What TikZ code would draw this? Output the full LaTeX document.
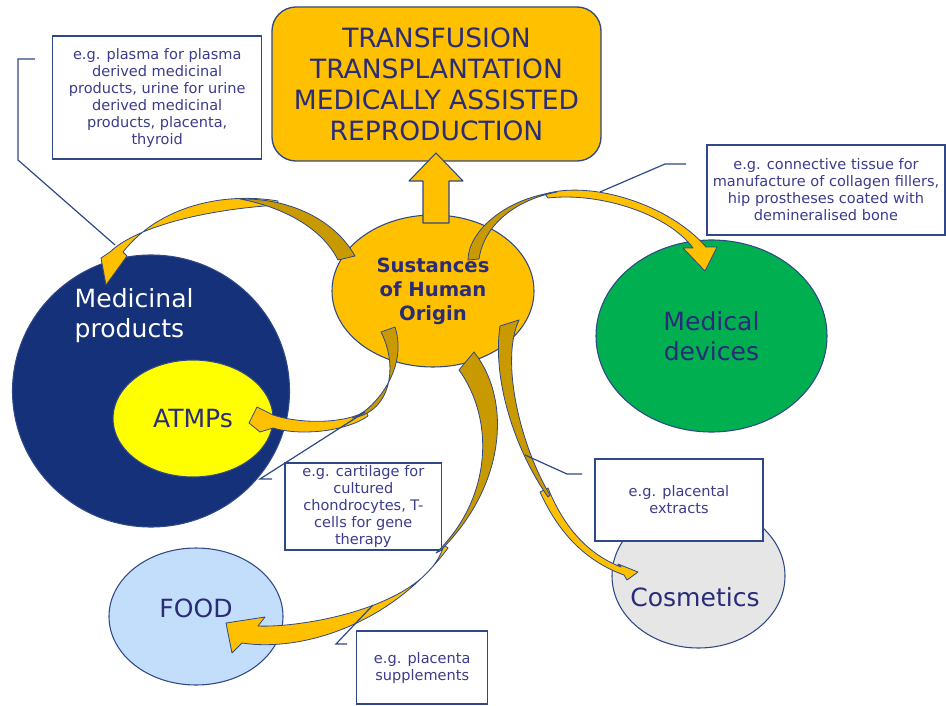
\documentclass[tikz,border=0pt]{standalone}
\usepackage{fontspec}
\setmainfont{DejaVu Sans}
\usetikzlibrary{shapes.geometric}
\definecolor{gold}{HTML}{FFC000}
\definecolor{darkgold}{HTML}{C99A00}
\definecolor{navyline}{HTML}{2F4888}
\definecolor{navyfill}{HTML}{14317A}
\definecolor{txt}{HTML}{2A2C78}
\definecolor{boxtxt}{HTML}{3C3C8C}
\definecolor{mygreen}{HTML}{00B050}
\definecolor{myyellow}{HTML}{FFFF00}
\definecolor{foodblue}{HTML}{C3DEFA}
\definecolor{cosgrey}{HTML}{E6E6E6}
\begin{document}
\begin{tikzpicture}[x=0.75pt,y=-0.75pt,
  blob/.style={ellipse, draw=navyline, line width=0.8pt, inner sep=0pt},
  note/.style={rectangle, draw=navyline, line width=1pt, fill=white, text=boxtxt,
    font=\fontsize{10.9}{12.75}\selectfont, align=center, inner sep=0pt},
  big/.style={font=\fontsize{18.8}{22.5}\selectfont},
  ribbonback/.style={fill=darkgold, draw=navyline, line width=0.6pt, line join=round},
  ribbonfront/.style={fill=gold, draw=navyline, line width=0.6pt, line join=round},
  callout/.style={draw=navyline, line width=0.9pt}]
\useasboundingbox (0,0) rectangle (946,706);

% main shapes
\node[blob, fill=navyfill, minimum width=207.75pt, minimum height=204pt] (med) at (151,391) {};
\node[blob, fill=myyellow, minimum width=120pt, minimum height=87.75pt, text=txt, big] (atmp) at (193,418.5) {ATMPs};
\node[blob, fill=mygreen, minimum width=173.25pt, minimum height=144pt, text=txt, big, align=center] (dev) at (711.5,336) {Medical\\devices};
\node[blob, fill=foodblue, minimum width=130.5pt, minimum height=102.75pt] (food) at (196,616.5) {};
\node[text=txt, big] (foodt) at (196,608) {FOOD};
\node[blob, fill=cosgrey, minimum width=129.75pt, minimum height=108pt] (cos) at (698.5,576) {};
\node[text=txt, big] (cost) at (695,597) {Cosmetics};

\node[blob, fill=gold, minimum width=151.5pt, minimum height=114pt, text=txt,
  font=\bfseries\fontsize{14.7}{18}\selectfont, align=center] (soho) at (433,291) {Sustances\\of Human\\Origin};

\node[draw=navyline, line width=1pt, fill=gold, rounded corners=18pt, minimum width=246.75pt,
  minimum height=115.5pt, text=txt, font=\fontsize{19.9}{23.25}\selectfont, align=center]
  (top) at (436.5,84) {TRANSFUSION\\TRANSPLANTATION\\MEDICALLY ASSISTED\\REPRODUCTION};

% up block arrow
\draw[fill=gold, draw=navyline, line width=0.8pt, line join=round]
  (423,223) -- (423,181) -- (409,181) -- (436,153) -- (463,181) -- (449,181) -- (449,223) -- cycle;

% notes
\node[note, minimum width=156.75pt, minimum height=92.25pt] (na) at (157.2,97.5)
  {e.g. plasma for plasma\\derived medicinal\\products, urine for urine\\derived medicinal\\products, placenta,\\thyroid};
\node[note, minimum width=178.5pt, minimum height=67.5pt] (nb) at (826,190)
  {e.g. connective tissue for\\manufacture of collagen fillers,\\hip prostheses coated with\\demineralised bone};
\node[note, minimum width=117.5pt, minimum height=65.25pt] (nc) at (363.3,506.5)
  {e.g. cartilage for\\cultured\\chondrocytes, T-\\cells for gene\\therapy};
\node[note, minimum width=126pt, minimum height=61.5pt] (nd) at (679,500)
  {e.g. placental\\extracts};
\node[note, minimum width=98.25pt, minimum height=54.75pt] (ne) at (422.2,667.5)
  {e.g. placenta\\supplements};

% ribbon A (to medicinal products)
\draw[ribbonfront] (278,201) .. controls (225,192) and (160,205) .. (123,252) -- (127,256) -- (106,285) -- (101,258) -- (110,252) .. controls (135,228) and (200,210) .. (278,205) -- cycle;
\draw[ribbonback] (355,256) .. controls (335,220) and (290,198) .. (240,199) .. controls (283,207) and (322,228) .. (338,260) -- cycle;
% ribbon B (to medical devices)
\draw[ribbonfront] (545,194) .. controls (592,180) and (670,205) .. (706,247) -- (717,247) -- (705,271) -- (683,248) -- (693,248) .. controls (668,214) and (600,192) .. (548,198) -- cycle;
\draw[ribbonback] (468,260) .. controls (468,232) and (505,198) .. (557,192) .. controls (515,200) and (484,225) .. (479,259) -- cycle;
% ribbon C (to ATMPs)
\draw[ribbonfront] (366,411) .. controls (345,424) and (300,424) .. (273,415) -- (257,407) -- (249,423) -- (260,432) -- (273,428) .. controls (300,436) and (345,432) .. (368,416) -- cycle;
\draw[ribbonback] (381,332) .. controls (398,365) and (392,412) .. (352,418) .. controls (372,412) and (409,370) .. (395,327) -- cycle;
% ribbon D (to food)
\draw[ribbonfront] (444,545) .. controls (426,608) and (300,628) .. (258,626) -- (265,617) -- (226,623) -- (232,653) -- (242,643) .. controls (300,652) and (390,626) .. (448,548) -- cycle;
\draw[ribbonback] (459,370) .. controls (495,420) and (492,499) .. (436,553) -- (440,551) .. controls (506,486) and (512,400) .. (474,352) -- cycle;
% ribbon E (to cosmetics)
\draw[ribbonfront] (548,488) .. controls (565,530) and (590,555) .. (621,567) -- (618,564) -- (638,572) -- (627,580) -- (624,575) .. controls (588,562) and (560,536) .. (540,492) -- cycle;
\draw[ribbonback] (500,326) .. controls (492,380) and (515,450) .. (548,497) -- (550,495) .. controls (520,445) and (500,360) .. (519,320) -- cycle;

\node[anchor=west, align=left, text=white, big] (medt) at (70,316) {Medicinal\\products};

% callouts
\coordinate (a1) at (35,59); \coordinate (a2) at (18,59); \coordinate (a3) at (18,160); \coordinate (a4) at (115,245);
\draw[callout] (a1) -- (a2) -- (a3) -- (a4);
\coordinate (b1) at (686,164); \coordinate (b2) at (665,164); \coordinate (b3) at (600,192);
\draw[callout] (b1) -- (b2) -- (b3);
\coordinate (c1) at (272,479); \coordinate (c2) at (260,479); \coordinate (c3) at (365,412);
\draw[callout] (c1) -- (c2) -- (c3);
\coordinate (d1) at (582,474); \coordinate (d2) at (567,474); \coordinate (d3) at (525,455);
\draw[callout] (d1) -- (d2) -- (d3);
\coordinate (e1) at (347,644); \coordinate (e2) at (336,644); \coordinate (e3) at (373,605);
\draw[callout] (e1) -- (e2) -- (e3);
\end{tikzpicture}
\end{document}
